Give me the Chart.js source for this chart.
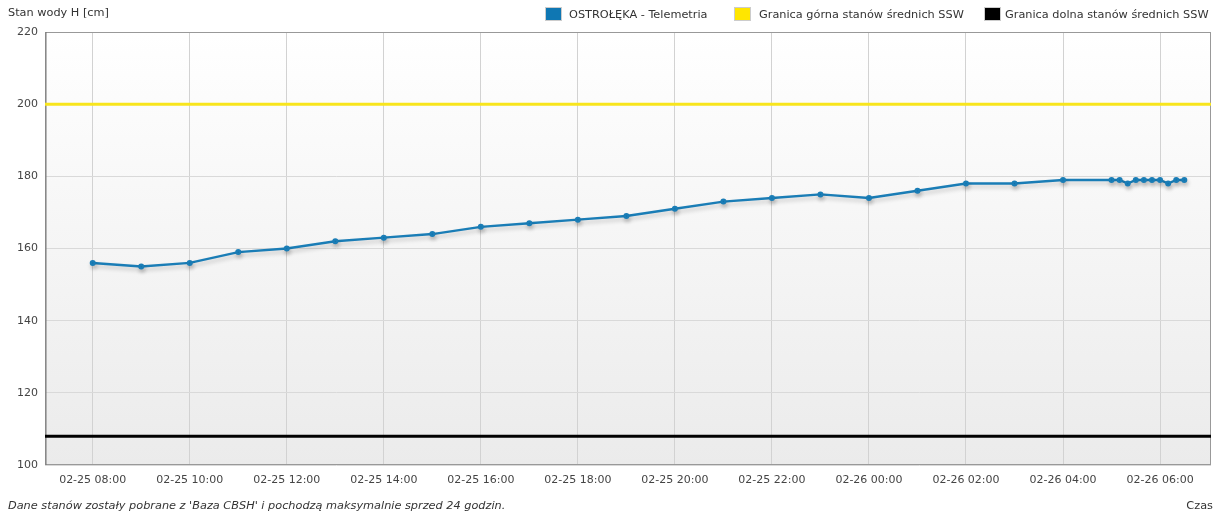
<!DOCTYPE html>
<html>
<head>
<meta charset="utf-8">
<script src="https://cdn.jsdelivr.net/npm/chart.js@4.4.1/dist/chart.umd.min.js"></script>
<style>
  html, body { margin:0; padding:0; background:#fff; }
  #wrap { position:relative; width:1221px; height:516px; overflow:hidden; font-family:"DejaVu Sans", sans-serif; }
  canvas { position:absolute; left:0; top:0; }
  .t { position:absolute; white-space:nowrap; color:#333; font-size:11.3px; line-height:13px; }
  .box { position:absolute; width:17px; height:14px; border:1px solid #ccc; box-sizing:border-box; }
</style>
</head>
<body>
<div id="wrap">
  <canvas id="c" width="1221" height="516"></canvas>
  <div class="t" id="ytitle" style="left:8px; top:6px;">Stan wody H [cm]</div>
  <div id="legend"></div>
  <div class="t" style="left:8px; top:499px; font-style:italic;">Dane stanów zostały pobrane z 'Baza CBSH' i pochodzą maksymalnie sprzed 24 godzin.</div>
  <div class="t" style="right:8px; top:499px;">Czas</div>
</div>
<script>
// ---- data ----
const times = [
  "02-25 08:00","02-25 09:00","02-25 10:00","02-25 11:00","02-25 12:00","02-25 13:00",
  "02-25 14:00","02-25 15:00","02-25 16:00","02-25 17:00","02-25 18:00","02-25 19:00",
  "02-25 20:00","02-25 21:00","02-25 22:00","02-25 23:00","02-26 00:00","02-26 01:00",
  "02-26 02:00","02-26 03:00","02-26 04:00","02-26 05:00","02-26 05:10","02-26 05:20",
  "02-26 05:30","02-26 05:40","02-26 05:50","02-26 06:00","02-26 06:10","02-26 06:20",
  "02-26 06:30"
];
const levels = [
  156,155,156,159,160,162,
  163,164,166,167,168,169,
  171,173,174,175,174,176,
  178,178,179,179,179,178,
  179,179,179,179,178,179,
  179
];
const upperLimit = 200;   // Granica górna stanów średnich SSW
const lowerLimit = 108;   // Granica dolna stanów średnich SSW
const xTickLabels = [
  "02-25 08:00","02-25 10:00","02-25 12:00","02-25 14:00","02-25 16:00","02-25 18:00",
  "02-25 20:00","02-25 22:00","02-26 00:00","02-26 02:00","02-26 04:00","02-26 06:00"
];
const xRange = ["02-25 07:01", "02-26 07:03"];
const yTicks = [100,120,140,160,180,200,220];
const seriesNames = ["OSTROŁĘKA - Telemetria", "Granica górna stanów średnich SSW", "Granica dolna stanów średnich SSW"];
const seriesColors = ["#0f77b3", "#ffe600", "#000000"];

// ---- helpers ----
function toHours(s) {
  const [md, hm] = s.split(" ");
  const day = parseInt(md.split("-")[1], 10);
  const [h, m] = hm.split(":").map(Number);
  return (day - 25) * 24 + h + m / 60;
}
const labelByValue = {};
xTickLabels.forEach(l => { labelByValue[toHours(l).toFixed(3)] = l; });
const xMin = toHours(xRange[0]), xMax = toHours(xRange[1]);

// legend (HTML)
const legendPos = [{box:545, text:569}, {box:734, text:759}, {box:984, text:1005}];
const lg = document.getElementById("legend");
seriesNames.forEach((n, i) => {
  const b = document.createElement("div");
  b.className = "box";
  b.style.left = legendPos[i].box + "px"; b.style.top = "7px"; b.style.background = seriesColors[i];
  lg.appendChild(b);
  const t = document.createElement("div");
  t.className = "t"; t.textContent = n;
  t.style.left = legendPos[i].text + "px"; t.style.top = "8px";
  lg.appendChild(t);
});

const bgPlugin = {
  id: "bg",
  beforeDraw(chart) {
    const {ctx, chartArea: a} = chart;
    const g = ctx.createLinearGradient(0, a.top, 0, a.bottom);
    g.addColorStop(0, "#ffffff");
    g.addColorStop(1, "#ebebeb");
    ctx.save();
    ctx.fillStyle = g;
    ctx.fillRect(a.left, a.top, a.right - a.left, a.bottom - a.top);
    ctx.restore();
  },
  beforeDatasetsDraw(chart) {
    const {ctx, chartArea: a} = chart;
    ctx.save();
    ctx.strokeStyle = "#999";
    ctx.lineWidth = 1;
    ctx.strokeRect(a.left + 0.5, a.top + 0.5, a.right - a.left - 1, a.bottom - a.top - 1);
    ctx.strokeStyle = "#777";
    ctx.beginPath(); ctx.moveTo(a.left + 1, a.top); ctx.lineTo(a.left + 1, a.bottom); ctx.stroke();
    ctx.restore();
  },
  beforeDatasetDraw(chart, args) {
    if (args.index === 0) {
      const ctx = chart.ctx;
      ctx.save();
      ctx.shadowColor = "rgba(0,0,0,0.2)";
      ctx.shadowBlur = 4;
      ctx.shadowOffsetX = 1;
      ctx.shadowOffsetY = 3;
    }
  },
  afterDatasetDraw(chart, args) {
    if (args.index === 0) chart.ctx.restore();
  }
};

const tickFont = {family: "DejaVu Sans", size: 11};
new Chart(document.getElementById("c"), {
  type: "line",
  data: {
    datasets: [
      {
        label: seriesNames[0],
        data: times.map((t, i) => ({x: toHours(t), y: levels[i]})),
        borderColor: "#1a7db6", backgroundColor: seriesColors[0],
        borderWidth: 2.4, pointRadius: 1.8, pointHoverRadius: 1.8, tension: 0, order: 0
      },
      {
        label: seriesNames[1],
        data: [{x: xMin, y: upperLimit}, {x: xMax, y: upperLimit}],
        borderColor: "#f8e51c", borderWidth: 3, pointRadius: 0, order: 1
      },
      {
        label: seriesNames[2],
        data: [{x: xMin, y: lowerLimit}, {x: xMax, y: lowerLimit}],
        borderColor: "#000", borderWidth: 3, pointRadius: 0, order: 2
      }
    ]
  },
  options: {
    responsive: false,
    animation: false,
    events: [],
    layout: {padding: {top: 32, right: 10, left: 0, bottom: 0}},
    plugins: {legend: {display: false}, tooltip: {enabled: false}},
    scales: {
      x: {
        type: "linear", min: xMin, max: xMax,
        afterFit(s) { s.height = 51; },
        afterBuildTicks(s) { s.ticks = xTickLabels.map(l => ({value: toHours(l)})); },
        ticks: {
          autoSkip: false, maxRotation: 0, padding: 9, color: "#444", font: tickFont,
          callback: v => labelByValue[Number(v).toFixed(3)] || ""
        },
        grid: {color: "#d2d2d2", drawTicks: false},
        border: {display: false}
      },
      y: {
        min: 100, max: 220,
        afterFit(s) { s.width = 45; },
        afterBuildTicks(s) { s.ticks = yTicks.map(v => ({value: v})); },
        ticks: {padding: 7, color: "#444", font: tickFont},
        grid: {color: "#d9d9d9", drawTicks: false},
        border: {display: false}
      }
    }
  },
  plugins: [bgPlugin]
});
</script>
</body>
</html>
